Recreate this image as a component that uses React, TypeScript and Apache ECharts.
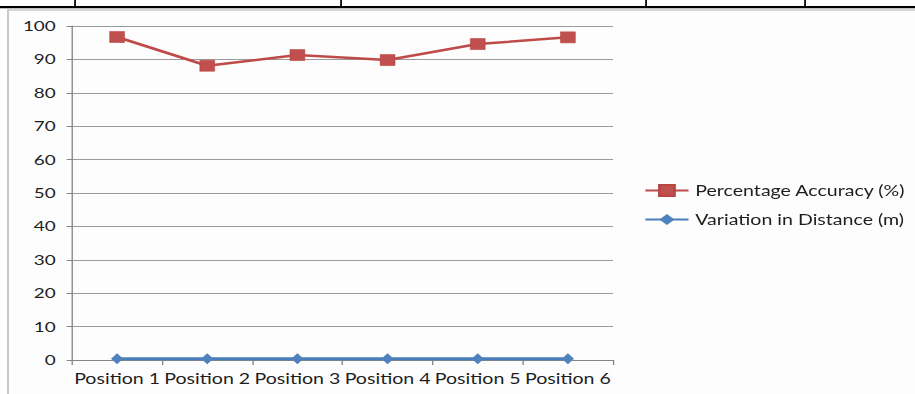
import React, { useEffect, useRef } from "react";
import * as echarts from "echarts";

const categories = ["Position 1", "Position 2", "Position 3", "Position 4", "Position 5", "Position 6"];
const accuracy = [96.7, 88.1, 91.3, 89.8, 94.6, 96.6];
const variation = [0.4, 0.4, 0.4, 0.4, 0.4, 0.4];
const seriesNames = ["Percentage Accuracy (%)", "Variation in Distance (m)"];

const S = 1.35; // horizontal stretch of the reference image
const W = 915 / S;
const H = 394;
const FONT = "Lato";

export default function App() {
  const ref = useRef<HTMLDivElement>(null);
  useEffect(() => {
    if (!ref.current) return;
    const chart = echarts.init(ref.current, null, { renderer: "svg", width: W, height: H });
    const tableX = [75, 341, 646, 805].map((x) => x / S);
    chart.setOption({
      animation: false,
      backgroundColor: "#ffffff",
      textStyle: { fontFamily: FONT },
      graphic: [
        { type: "rect", shape: { x: 8 / S, y: 10, width: W, height: 400 }, style: { fill: "#fdfdfd", stroke: "#c9c9c9", lineWidth: 1.5 }, z: -10 },
        { type: "rect", shape: { x: 0, y: 6, width: W, height: 2.2 }, style: { fill: "#000" } },
        ...tableX.map((x) => ({ type: "rect", shape: { x: x - 0.6, y: 0, width: 1.3, height: 7 }, style: { fill: "#000" } })),
      ],
      grid: { left: 72 / S, right: W - 613 / S, top: 26, bottom: 34, containLabel: false },
      legend: {
        orient: "vertical",
        left: 644 / S,
        top: 183,
        padding: 0,
        itemWidth: 32,
        itemHeight: 14,
        itemGap: 14,
        data: seriesNames,
        textStyle: { fontFamily: FONT, fontSize: 14.5, color: "#1e1e1e" },
      },
      xAxis: {
        type: "category",
        data: categories,
        boundaryGap: true,
        axisLine: { lineStyle: { color: "#868686", width: 1 } },
        axisTick: { show: true, length: 5, alignWithLabel: false, lineStyle: { color: "#868686" } },
        axisLabel: { fontFamily: FONT, fontSize: 14.5, color: "#1e1e1e", margin: 11, interval: 0 },
        splitLine: { show: false },
      },
      yAxis: {
        type: "value",
        min: 0,
        max: 100,
        interval: 10,
        axisLine: { show: true, lineStyle: { color: "#868686", width: 1 } },
        axisTick: { show: true, length: 4, lineStyle: { color: "#868686" } },
        axisLabel: { fontFamily: FONT, fontSize: 14, color: "#1e1e1e", margin: 12 },
        splitLine: { show: true, lineStyle: { color: "#9a9a9a", width: 1 } },
      },
      series: [
        {
          name: seriesNames[0],
          type: "line",
          data: accuracy,
          symbol: "rect",
          symbolSize: 11,
          lineStyle: { color: "#BE4B48", width: 2.5 },
          itemStyle: { color: "#C0504D", borderColor: "#B84744", borderWidth: 0.5 },
          z: 3,
        },
        {
          name: seriesNames[1],
          type: "line",
          data: variation,
          symbol: "diamond",
          symbolSize: [9, 11],
          lineStyle: { color: "#4A7EBB", width: 3 },
          itemStyle: { color: "#4F81BD" },
          z: 2,
        },
      ],
    });
    return () => chart.dispose();
  }, []);
  return (
    <div style={{ position: "fixed", left: 0, top: 0, width: 915, height: H, overflow: "hidden", background: "#fff" }}>
      <div
        ref={ref}
        style={{ width: W, height: H, transform: `scaleX(${S})`, transformOrigin: "0 0" }}
      />
    </div>
  );
}
